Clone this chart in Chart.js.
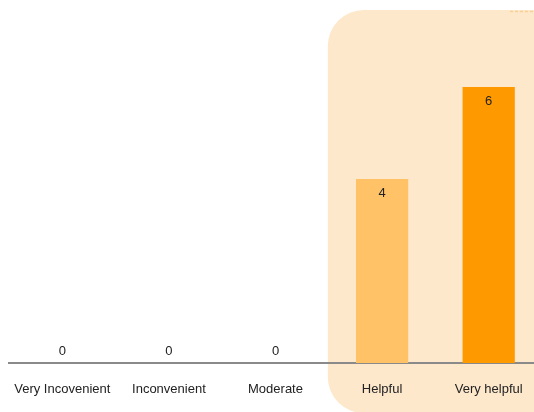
<!DOCTYPE html>
<html>

<head>
	<title>Helpfulness</title>
	<meta charset="UTF-8">
	<script src="https://cdn.jsdelivr.net/npm/chart.js@4.4.0/dist/chart.umd.min.js"></script>
	<style>
		html, body { margin: 0; padding: 0; overflow: hidden; background: #fff; }
		canvas { display: block; }
	</style>
</head>

<body>
	<canvas id="helpChart" width="542" height="412"></canvas>

	<script>
		var categories = ["Very Incovenient", "Inconvenient", "Moderate", "Helpful", "Very helpful"];
		var counts = [0, 0, 0, 4, 6];
		var barColors = ["#ffc266", "#ffc266", "#ffc266", "#ffc266", "#ff9900"];
		var highlightFrom = "Helpful";

		// light panel behind the helpful categories
		var highlightPlugin = {
			id: "highlight",
			beforeDraw: function (chart) {
				var ctx = chart.ctx;
				var x = chart.scales.x;
				var idx = categories.indexOf(highlightFrom);
				var half = (x.getPixelForValue(1) - x.getPixelForValue(0)) / 2;
				var left = x.getPixelForValue(idx) - half - 1;
				var top = 10, bottom = chart.height + 1, right = chart.width + 40, r = 36;
				ctx.save();
				ctx.fillStyle = "#fee8cc";
				ctx.beginPath();
				ctx.roundRect(left, top, right - left, bottom - top, r);
				ctx.fill();
				ctx.strokeStyle = "#fbcf94";
				ctx.setLineDash([3, 2]);
				ctx.lineWidth = 1.5;
				ctx.beginPath();
				ctx.moveTo(510, 11.5);
				ctx.lineTo(chart.width, 11.5);
				ctx.stroke();
				ctx.restore();
			}
		};

		// value labels: inside the bar top, or above the axis for zero
		var valuePlugin = {
			id: "values",
			afterDatasetsDraw: function (chart) {
				var ctx = chart.ctx;
				var meta = chart.getDatasetMeta(0);
				ctx.save();
				ctx.font = "13px 'Liberation Sans', Arial, sans-serif";
				ctx.fillStyle = "#222";
				ctx.textAlign = "center";
				ctx.textBaseline = "middle";
				meta.data.forEach(function (bar, i) {
					var v = counts[i];
					var y = v === 0 ? bar.base - 12 : bar.y + 14;
					ctx.fillText(String(v), bar.x, y);
				});
				ctx.restore();
			}
		};

		new Chart(document.getElementById("helpChart"), {
			type: "bar",
			data: {
				labels: categories,
				datasets: [{
					data: counts,
					backgroundColor: barColors,
					barPercentage: 0.49,
					categoryPercentage: 1
				}]
			},
			options: {
				responsive: false,
				animation: false,
				layout: { padding: { left: 9, right: 0, top: 87, bottom: 9 } },
				plugins: { legend: { display: false }, tooltip: { enabled: false } },
				scales: {
					x: {
						grid: { display: false, drawTicks: false },
						border: { display: true, color: "#8a8a8a", width: 2 },
						ticks: {
							color: "#222",
							padding: 19,
							maxRotation: 0,
							autoSkip: false,
							font: { family: "'Liberation Sans', Arial, sans-serif", size: 13 }
						},
						afterFit: function (scale) {
							scale.height = 40;
							scale.paddingLeft = 0;
							scale.paddingRight = 0;
						}
					},
					y: {
						display: false,
						min: 0,
						max: 6
					}
				}
			},
			plugins: [highlightPlugin, valuePlugin]
		});
	</script>

</body>

</html>
